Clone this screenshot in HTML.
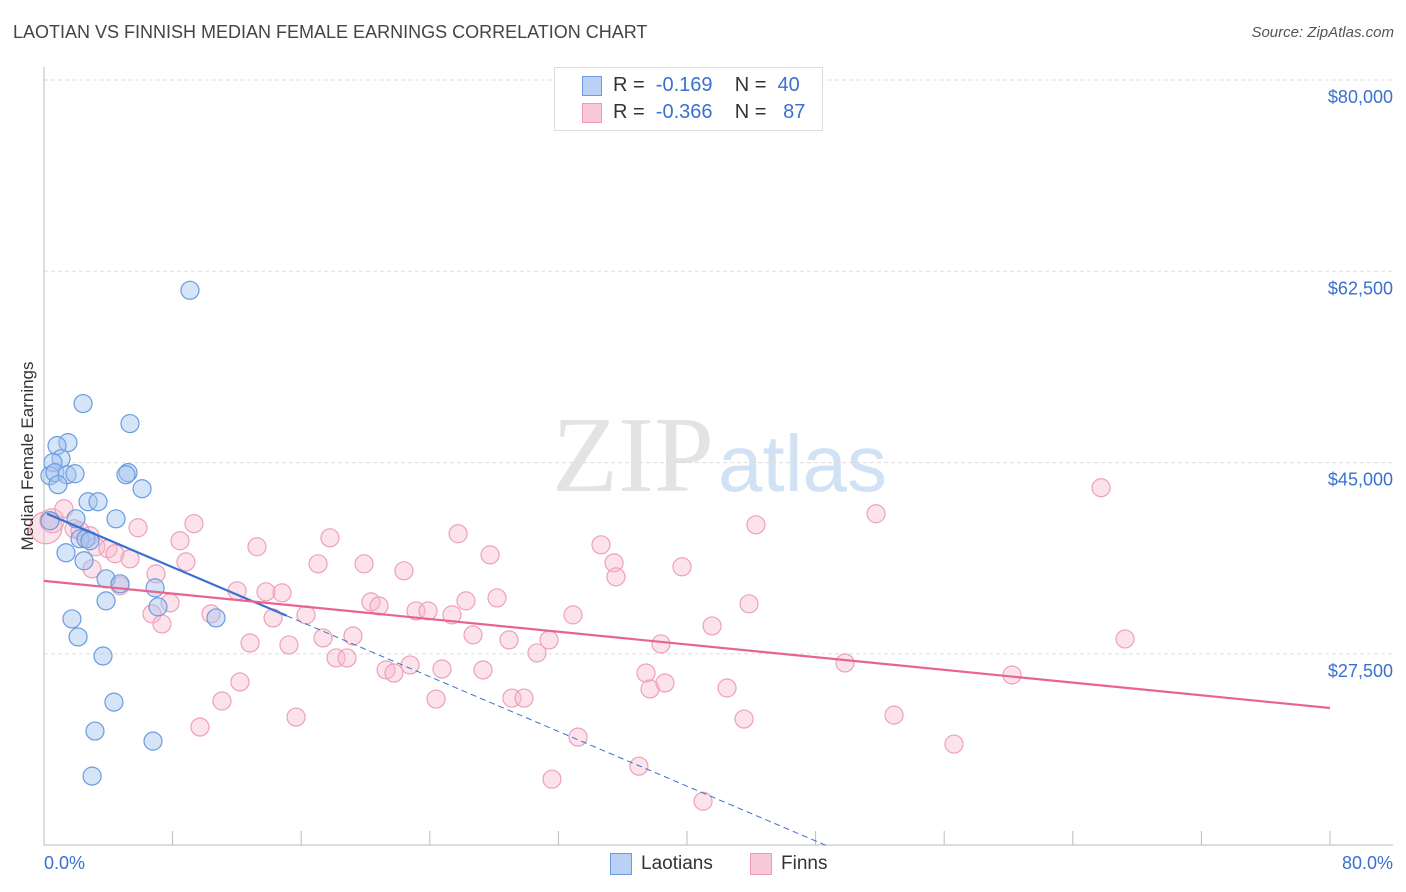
<!DOCTYPE html>
<html><head><meta charset="utf-8">
<style>
body{margin:0;background:#fff;font-family:"Liberation Sans",sans-serif;}
#wrap{position:relative;width:1406px;height:892px;overflow:hidden;}
.t{position:absolute;white-space:nowrap;}
</style></head>
<body>
<div id="wrap">
<div class="t" style="left:13px;top:22px;font-size:18px;color:#444;">LAOTIAN VS FINNISH MEDIAN FEMALE EARNINGS CORRELATION CHART</div>
<div class="t" style="right:12px;top:24px;font-size:15px;color:#555;font-style:italic;">Source: ZipAtlas.com</div>
<svg id="svg" width="1406" height="892" style="position:absolute;left:0;top:0">
<text x="714" y="491" text-anchor="end" font-family="Liberation Serif" font-size="108" fill="#e3e3e3">ZIP</text>
<text x="718" y="491" font-family="Liberation Sans" font-size="80" fill="#d2e2f5">atlas</text>
<g id="grid"></g><g id="pts"></g><g id="lines"></g>
<text x="33" y="456" transform="rotate(-90 33 456)" text-anchor="middle" font-size="17" fill="#333">Median Female Earnings</text>
</svg>
<div style="position:absolute;left:554px;top:67px;width:267px;height:62px;border:1px solid #ddd;background:#fff;font-size:20px;">
 <div style="position:absolute;left:27px;top:8px;width:18px;height:18px;background:#b9d1f4;border:1px solid #6a9be0;"></div>
 <div class="t" style="left:58px;top:6px;color:#333">R = &nbsp;<span style="color:#3a70d0">-0.169</span>&nbsp;&nbsp;&nbsp; N = &nbsp;<span style="color:#3a70d0">40</span></div>
 <div style="position:absolute;left:27px;top:35px;width:18px;height:18px;background:#f9c8d7;border:1px solid #ee9ab5;"></div>
 <div class="t" style="left:58px;top:33px;color:#333">R = &nbsp;<span style="color:#3a70d0">-0.366</span>&nbsp;&nbsp;&nbsp; N = &nbsp;&nbsp;<span style="color:#3a70d0">87</span></div>
</div>
<div style="position:absolute;left:610px;top:853px;width:20px;height:20px;background:#b9d1f4;border:1px solid #6a9be0;"></div>
<div class="t" style="left:641px;top:853px;font-size:19px;color:#333">Laotians</div>
<div style="position:absolute;left:750px;top:853px;width:20px;height:20px;background:#f9c8d7;border:1px solid #ee9ab5;"></div>
<div class="t" style="left:781px;top:853px;font-size:19px;color:#333">Finns</div>
<div class="t" style="left:44px;top:853px;font-size:18px;color:#3a70d0">0.0%</div>
<div class="t" style="right:13px;top:853px;font-size:18px;color:#3a70d0">80.0%</div>
</div>
<script>
const yTicks=[80000,62500,45000,27500];
const yTickLabels=["$80,000","$62,500","$45,000","$27,500"];
const xTicks=[0,8,16,24,32,40,48,56,64,72,80];
const blueX=[9.08,2.43,5.35,1.49,0.81,1.06,0.56,0.37,0.68,1.43,1.93,5.23,5.10,6.10,0.87,2.74,3.36,4.48,1.99,0.37,1.37,2.24,2.61,2.86,2.49,3.86,4.73,6.91,3.86,7.09,10.70,1.74,2.12,3.67,4.35,3.17,6.78,2.99];
const blueY=[60760,50400,48570,46830,46550,45360,45000,43800,44080,43890,43980,44080,43890,42610,42980,41420,41420,39860,39860,39680,36750,38030,38030,37850,36020,34370,33910,33540,32350,31800,30790,30700,29050,27310,23090,20440,19520,16320];
const pinkX=[0.12,0.5,1.24,1.87,2.24,2.86,3.23,3.98,4.42,5.35,2.99,4.73,6.97,7.84,6.72,5.85,8.46,9.33,8.83,7.34,9.70,10.39,11.07,12.01,12.19,12.82,13.25,13.81,14.81,14.25,15.24,15.68,16.30,17.05,17.36,17.79,18.17,18.85,19.22,19.91,20.34,20.84,21.28,21.77,22.39,22.77,23.14,23.89,24.39,24.76,25.38,25.76,26.25,26.69,27.31,27.75,28.18,28.93,29.11,29.86,30.67,31.42,31.60,32.91,33.22,34.65,35.46,35.58,37.01,37.45,37.70,38.38,38.63,39.69,41.00,41.56,42.49,43.55,43.86,44.29,49.83,51.76,52.88,56.61,60.22,65.76,67.25];
const pinkY=[39040,39680,40780,38950,38760,38310,37300,37120,36660,36200,35280,33730,34820,32170,31160,39040,37850,39410,35920,30240,20810,31160,23190,33270,24930,28500,37300,33180,33090,30790,28320,21720,31070,35740,28960,38120,27130,27130,29140,35740,32260,31890,26030,25750,35100,26490,31430,31430,23370,26120,31070,38490,32350,29240,26030,36560,32620,28780,23460,23460,27590,28780,16040,31070,19890,37480,35830,34550,17230,25750,24290,28410,24840,35470,14020,30060,24380,21540,32080,39310,26670,40320,21900,19250,25570,42700,28870];
const pinkR=[16,12];
const blueTrend=[40440,-626];const blueSolidEnd=15.1;const blueDashEnd=48.8;
const pinkTrend=[34180,22550];
const NS="http://www.w3.org/2000/svg";
const xS=p=>44+p*16.075;
const yS=v=>80+(80000-v)*191.3/17500;
function mk(tag,attrs,parent){const e=document.createElementNS(NS,tag);for(const k in attrs)e.setAttribute(k,attrs[k]);document.getElementById(parent).appendChild(e);return e;}
yTicks.forEach((v,i)=>{
 const l=mk('line',{x1:44,x2:1393,y1:yS(v),y2:yS(v),stroke:'#ddd','stroke-dasharray':'4,3'},'grid');
 
 
 const t=mk('text',{x:1393,y:yS(v)+23,'text-anchor':'end','font-size':18,fill:'#3a70d0'},'grid');
 t.textContent=yTickLabels[i];
 
 
});
let a=mk('line',{x1:44,x2:44,y1:67,y2:845,stroke:'#bbb'},'grid');


a=mk('line',{x1:44,x2:1393,y1:845,y2:845,stroke:'#bbb'},'grid');


xTicks.forEach(p=>{const t=mk('line',{x1:xS(p),x2:xS(p),y1:831,y2:845,stroke:'#bbb'},'grid');
 
 });
pinkX.forEach((x,i)=>{const c=mk('circle',{cx:xS(x),cy:yS(pinkY[i]),r:pinkR[i]||9,fill:'rgba(248,184,204,0.4)',stroke:'#eea0b9','stroke-width':1.2},'pts');
 
 });
blueX.forEach((x,i)=>{const c=mk('circle',{cx:xS(x),cy:yS(blueY[i]),r:9,fill:'rgba(164,196,240,0.45)',stroke:'#6a9be0','stroke-width':1.2},'pts');
 
 });
const bv=p=>blueTrend[0]+blueTrend[1]*p;
let L=mk('line',{x1:xS(0.19),y1:yS(bv(0.19)),x2:xS(blueSolidEnd),y2:yS(bv(blueSolidEnd)),stroke:'#3a70d0','stroke-width':2.2},'lines');


L=mk('line',{x1:xS(blueSolidEnd),y1:yS(bv(blueSolidEnd)),x2:xS(blueDashEnd),y2:yS(bv(blueDashEnd)),stroke:'#3a70d0','stroke-width':1,'stroke-dasharray':'6,4'},'lines');


L=mk('line',{x1:xS(0),y1:yS(pinkTrend[0]),x2:xS(80),y2:yS(pinkTrend[1]),stroke:'#e8648f','stroke-width':2.2},'lines');


</script>
</body></html>
